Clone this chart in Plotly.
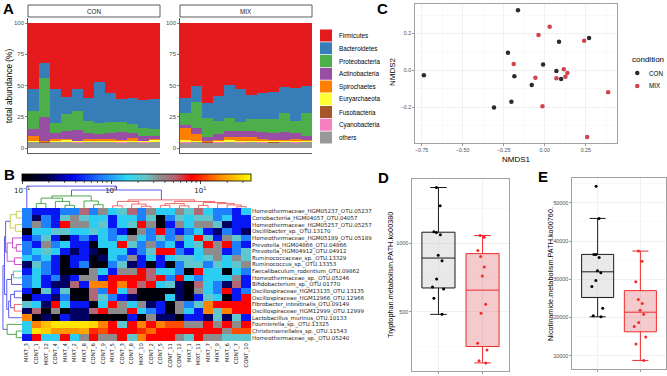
import numpy as np
import plotly.graph_objects as go

W, H = 667, 376
def px_x(a, b): return [a / W, b / W]
def px_y(top, bottom): return [1 - bottom / H, 1 - top / H]
def fx(x): return x / W
def fy(y): return 1 - y / H

SANS = "Liberation Sans, Arial, sans-serif"
DEJA = "DejaVu Sans, sans-serif"
TICK = "#4D4D4D"

# ---------------- Panel A data (relative abundance %, stacked bottom -> top)
con_samples = ["CONT_%d" % i for i in range(1, 13)]
mix_samples = ["MIXT_%d" % i for i in range(1, 13)]
stack_order = ["others", "Cyanobacteria", "Fusobacteria", "Euryarchaeota", "Spirochaetes",
               "Actinobacteria", "Proteobacteria", "Bacteroidetes", "Firmicutes"]
legend_order = ["Firmicutes", "Bacteroidetes", "Proteobacteria", "Actinobacteria", "Spirochaetes",
                "Euryarchaeota", "Fusobacteria", "Cyanobacteria", "others"]
phylum_colors = {"Firmicutes": "#E41A1C", "Bacteroidetes": "#377EB8", "Proteobacteria": "#4DAF4A",
                 "Actinobacteria": "#984EA3", "Spirochaetes": "#FF7F00", "Euryarchaeota": "#FFFF33",
                 "Fusobacteria": "#A65628", "Cyanobacteria": "#F781BF", "others": "#999999"}

con_others = [4.8, 4.2, 4.6, 4.5, 4.4, 4.7, 4.5, 4.6, 4.3, 4.5, 4.4, 4.6]
con_cyano = [0.2, 0.2, 0.2, 0.2, 0.2, 0.2, 0.2, 0.2, 0.2, 0.2, 0.2, 0.2]
con_fuso = [0.2, 0.2, 0.2, 0.2, 0.2, 0.2, 0.2, 0.2, 0.2, 0.2, 0.2, 0.2]
con_eury = [0.8, 0.4, 1.0, 1.2, 0.6, 0.8, 0.7, 0.9, 0.6, 1.0, 0.8, 1.5]
con_spiro = [3.6, 0.5, 1.5, 0.9, 0.6, 1.1, 1.4, 1.1, 1.2, 2.1, 0.4, 1.0]
con_actino = [5.4, 19.1, 4.8, 7.0, 8.5, 4.8, 4.2, 4.8, 6.5, 3.8, 3.6, 2.5]
con_proteo = [15.0, 31.4, 7.5, 13.0, 15.2, 9.9, 8.6, 8.9, 7.7, 7.2, 6.3, 5.0]
con_bacteroid = [17.0, 12.0, 27.2, 13.5, 17.3, 18.3, 33.2, 23.3, 18.3, 21.0, 22.6, 24.5]
con_firm = [53.0, 32.0, 53.0, 59.5, 53.0, 60.0, 47.0, 56.0, 61.0, 60.0, 61.5, 60.5]

mix_others = [4.3, 4.5, 4.2, 4.4, 4.6, 4.3, 4.5, 4.4, 4.2, 4.6, 4.3, 4.5]
mix_cyano = [0.2, 0.2, 0.2, 0.2, 0.2, 0.2, 0.2, 0.2, 0.2, 0.2, 0.2, 0.2]
mix_fuso = [0.2, 0.2, 0.2, 0.2, 0.2, 0.2, 0.2, 0.2, 0.2, 0.2, 0.2, 0.2]
mix_eury = [1.5, 1.0, 0.6, 0.8, 1.2, 0.9, 0.8, 0.7, 0.9, 0.6, 1.1, 1.0]
mix_spiro = [10.1, 5.3, 0.2, 0.8, 2.4, 3.5, 3.4, 1.5, 0.9, 0.8, 1.2, 0.5]
mix_actino = [2.2, 5.1, 3.2, 4.8, 5.3, 4.3, 4.3, 5.8, 5.4, 6.4, 5.3, 3.6]
mix_proteo = [9.9, 20.9, 15.2, 10.8, 9.9, 7.7, 9.6, 10.2, 11.5, 15.0, 9.4, 17.8]
mix_bacteroid = [12.0, 12.6, 12.1, 19.8, 26.5, 26.3, 19.8, 21.2, 21.4, 20.9, 26.0, 22.2]
mix_firm = [59.6, 50.2, 64.1, 58.2, 49.7, 52.6, 57.2, 55.8, 55.3, 51.3, 52.3, 50.0]

con_stack = [con_others, con_cyano, con_fuso, con_eury, con_spiro, con_actino, con_proteo, con_bacteroid, con_firm]
mix_stack = [mix_others, mix_cyano, mix_fuso, mix_eury, mix_spiro, mix_actino, mix_proteo, mix_bacteroid, mix_firm]

# ---------------- Panel B data (heatmap, relative abundance)
heat_cols = ["MIXT_3", "CONT_1", "MIXT_12", "CONT_4", "MIXT_4", "MIXT_2", "MIXT_8", "CONT_6", "CONT_9",
             "MIXT_5", "CONT_3", "CONT_8", "MIXT_10", "CONT_2", "CONT_5", "CONT_11", "CONT_12", "MIXT_1",
             "MIXT_11", "MIXT_7", "MIXT_9", "MIXT_6", "CONT_7", "CONT_10"]
heat_rows_labels = ["Homeothermaceae_HGM05237_OTU.05237", "Coriobacteriia_HGM04057_OTU.04057",
                    "Homeothermaceae_HGM05257_OTU.05257", "Oscillibacter_sp._OTU.13170",
                    "Homeothermaceae_HGM05189_OTU.05189", "Prevotella_HGM04866_OTU.04866",
                    "Prevotella_HGM04912_OTU.04912", "Ruminococcaceae_sp._OTU.13329",
                    "Ruminococcus_sp._OTU.13353", "Faecalibaculum_rodentium_OTU.09862",
                    "Homeothermaceae_sp._OTU.05246", "Bifidobacterium_sp._OTU.01770",
                    "Oscillospiraceae_HGM13135_OTU.13135", "Oscillospiraceae_HGM12966_OTU.12966",
                    "Fibrobacter_intestinalis_OTU.09149", "Oscillospiraceae_HGM12999_OTU.12999",
                    "Lactobacillus_murinus_OTU.10133", "Fournierella_sp._OTU.13325",
                    "Christensenellales_sp._OTU.11543", "Homeothermaceae_sp._OTU.05240"]
otu_05237 = [0.79,0.42,0.42,0.42,0.79,0.79,4.9,0.79,3.5,1.4,2.3,4.9,0.79,3.5,1.4,1.4,3.5,2.3,4.9,1.4,0.79,0.79,0.42,1.4]
otu_04057 = [0.79,0.21,0.79,0.42,2.3,3.5,2.3,1.4,1.4,0.42,1.4,1.4,0.79,2.3,0.11,0.79,2.3,1.4,2.3,2.3,0.79,1.4,0.42,0.42]
otu_05257 = [0.79,3.5,0.79,0.42,7.9,3.5,3.5,1.4,2.3,0.42,1.4,2.3,7.9,3.5,0.11,0.42,3.5,1.4,3.5,3.5,2.3,0.21,0.42,0.42]
otu_13170 = [0.11,1.4,1.4,2.3,2.3,1.4,1.4,2.3,1.4,0.79,0.42,0.11,3.5,0.79,7.9,0.79,0.42,0.79,1.4,0.42,0.21,0.79,0.42,0.21]
otu_05189 = [0.42,0.79,2.3,0.42,0.11,0.42,0.79,0.42,1.4,0.79,1.4,3.5,1.4,0.79,2.3,0.79,3.5,1.4,7.9,2.3,0.42,3.5,2.3,0.79]
otu_04866 = [0.79,0.42,3.5,0.79,1.4,0.42,0.42,0.11,1.4,1.4,7.9,2.3,0.79,3.5,0.79,1.4,0.42,1.4,2.3,7.9,3.5,7.9,0.79,0.42]
otu_04912 = [0.79,1.4,2.3,1.4,0.42,0.21,0.42,0.21,0.11,1.4,1.4,0.42,0.79,2.3,7.9,7.9,0.79,0.42,1.4,3.5,3.5,0.42,0.79,2.3]
otu_13329 = [1.4,0.79,1.4,0.42,0.11,0.42,0.42,0.11,0.21,1.4,0.79,3.5,0.42,1.4,0.42,1.4,2.3,2.3,1.4,2.3,3.5,1.4,3.5,2.3]
otu_13353 = [0.21,2.3,0.79,0.42,0.11,0.42,0.79,0.11,0.11,0.79,2.3,0.21,0.42,0.11,0.42,0.11,0.79,2.3,2.3,0.79,2.3,1.4,2.3,3.5]
otu_09862 = [0.42,1.4,0.79,0.42,0.11,0.11,0.11,3.5,1.4,0.42,3.5,3.5,7.9,4.9,1.4,1.4,0.79,0.11,7.9,1.4,1.4,0.11,1.4,0.79]
otu_05246 = [0.79,1.4,0.42,0.79,0.21,0.42,3.5,3.5,0.42,7.9,7.9,7.9,7.9,4.9,7.9,0.79,7.9,1.4,0.79,1.4,1.4,1.4,3.5,0.42]
otu_01770 = [0.79,1.4,0.42,0.21,0.21,4.9,0.42,16,16,7.9,16,7.9,4.9,7.9,1.4,2.3,0.21,0.11,4.9,1.4,0.79,0.21,4.9,0.42]
otu_13135 = [0.42,0.11,2.3,0.42,2.3,0.11,0.11,4.9,0.79,7.9,1.4,4.9,0.11,0.11,0.11,0.11,0.21,0.11,3.5,1.4,0.79,7.9,0.42,0.79]
otu_12966 = [0.11,0.42,0.42,0.21,0.79,0.11,0.11,4.9,2.3,0.79,0.42,0.21,0.11,0.11,0.11,1.4,0.21,0.11,0.42,2.3,1.4,0.11,0.42,7.9]
otu_09149 = [2.3,1.4,0.21,7.9,1.4,0.42,0.42,0.11,1.4,7.9,3.5,1.4,3.5,0.21,0.42,0.11,3.5,0.79,2.3,16,7.9,7.9,7.9,7.9]
otu_12999 = [0.21,4.9,0.11,3.5,0.11,0.21,0.21,4.9,7.9,3.5,3.5,7.9,1.4,0.79,0.42,0.11,3.5,1.4,0.42,16,2.3,16,7.9,7.9]
otu_10133 = [16,0.11,0.21,0.11,0.42,0.21,0.21,0.11,0.11,0.11,0.11,0.42,0.11,3.5,0.21,0.21,0.11,0.42,0.42,0.21,2.3,0.21,2.3,0.42]
otu_13325 = [1.4,16,24,31,31,31,31,28,16,7.9,2.3,7.9,16,7.9,16,12,12,3.5,3.5,7.9,3.5,7.9,3.5,7.9]
otu_11543 = [1.4,31,26,18,18,18,20,10,12,7.9,7.9,7.9,10,14,7.9,7.9,7.9,7.9,7.9,7.9,7.9,3.5,12,12]
otu_05240 = [0.42,7.9,1.4,1.4,7.9,1.4,3.5,7.9,3.5,3.5,7.9,2.3,16,7.9,7.9,7.9,3.5,2.3,7.9,3.5,3.5,2.3,2.3,2.3]
heat_rows = [otu_05237, otu_04057, otu_05257, otu_13170, otu_05189, otu_04866, otu_04912, otu_13329,
             otu_13353, otu_09862, otu_05246, otu_01770, otu_13135, otu_12966, otu_09149, otu_12999,
             otu_10133, otu_13325, otu_11543, otu_05240]
heat_min, heat_max = 0.1, 37.0
colorbar_minor = [0.2, 0.3, 0.4, 0.5, 0.6, 0.7, 0.8, 0.9, 2, 3, 4, 5, 6, 7, 8, 9, 20, 30]

# dendrograms: (left, right, merge height, cluster colour)
col_tree = (0, ((((1, 2, 0.2, "g"), (3, (4, 5, 0.12, "g"), 0.3, "g"), 0.45, "g"),
                 (6, (7, 8, 0.15, "g"), 0.32, "g"), 0.55, "g"),
                (((9, 10, 0.1, "r"), (11, (12, 13, 0.08, "r"), 0.18, "r"), 0.3, "r"),
                 (((14, 15, 0.12, "r"), (16, 17, 0.1, "r"), 0.2, "r"),
                  ((18, 19, 0.12, "r"), (20, (21, (22, 23, 0.06, "r"), 0.14, "r"), 0.2, "r"), 0.25, "r"),
                  0.3, "r"), 0.37, "r"), 0.82, "b"), 1.0, "b")
row_tree = (((((0, 1, 0.3, "y"), (2, 3, 0.35, "y"), 0.62, "y"),
              ((4, (5, 6, 0.3, "m"), 0.5, "m"), (7, 8, 0.4, "m"), 0.78, "m"), 0.86, "b"),
             (((9, 10, 0.45, "c"), 11, 0.55, "b"),
              (((12, 13, 0.4, "b"), (14, 15, 0.4, "r"), 0.6, "b"), 16, 0.7, "b"), 0.8, "b"), 0.92, "b"),
            (17, (18, 19, 0.3, "g"), 0.78, "g"), 1.0, "b")
tree_colors = {"g": "#3C9E3C", "r": "#EE5A5A", "b": "#4B4BEA", "y": "#C8C83C", "m": "#C83CC8", "c": "#3CC3C3"}

# ---------------- Panel C data (NMDS)
con_nmds1 = [-0.163, -0.224, 0.087, 0.27, -0.01, 0.071, 0.10, -0.185, -0.736, -0.079, -0.203, -0.309]
con_nmds2 = [0.326, 0.095, 0.155, 0.175, 0.032, -0.004, -0.047, -0.033, -0.027, -0.08, -0.171, -0.202]
mix_nmds1 = [0.03, -0.038, 0.24, -0.189, 0.116, 0.138, 0.126, 0.071, -0.057, 0.386, -0.014, 0.258]
mix_nmds2 = [0.236, 0.191, 0.16, 0.034, 0.005, -0.015, -0.035, -0.043, -0.04, -0.119, -0.195, -0.362]

# ---------------- Panels D / E data
con_trp = [1406, 1273, 1083, 1077, 1061, 912, 871, 739, 681, 666, 598, 481]
mix_trp = [1056, 1044, 946, 902, 827, 761, 554, 490, 271, 222, 127, 142]
con_nic = [54300, 45900, 36500, 36500, 35700, 32200, 31700, 29650, 28100, 22400, 20450, 20200]
mix_nic = [37370, 34690, 29380, 24690, 23650, 21920, 20880, 18700, 17660, 14900, 13070, 8800]

CON_C, MIX_C = "#2B2B2B", "#D0434B"

fig = go.Figure()

# ---- A bars
for sname, con_v, mix_v in zip(stack_order, con_stack, mix_stack):
    fig.add_trace(go.Bar(x=con_samples, y=con_v, marker=dict(color=phylum_colors[sname], line=dict(width=0)),
                         xaxis="x", yaxis="y", showlegend=False, hoverinfo="skip"))
    fig.add_trace(go.Bar(x=mix_samples, y=mix_v, marker=dict(color=phylum_colors[sname], line=dict(width=0)),
                         xaxis="x2", yaxis="y2", showlegend=False, hoverinfo="skip"))

# ---- B heatmap
z = np.log10(np.array(heat_rows, dtype=float))
cmin, cmax = np.log10(heat_min), np.log10(heat_max)
colorscale = [[0.0, "#000000"], [0.1, "#00003C"], [0.22, "#0000F0"], [0.34, "#1E78FF"],
              [0.46, "#2ED8F2"], [0.54, "#66C4C8"], [0.60, "#8C8C8C"], [0.67, "#B86070"],
              [0.74, "#FF0000"], [0.87, "#FF9000"], [1.0, "#FFFF00"]]
CB_L, CB_R, CB_T, CB_B = 22, 251, 174, 181
fig.add_trace(go.Heatmap(
    z=z, x=list(range(len(heat_cols))), y=list(range(len(heat_rows_labels))),
    colorscale=colorscale, zmin=cmin, zmax=cmax, xaxis="x3", yaxis="y3", hoverinfo="skip",
    colorbar=dict(orientation="h", x=fx((CB_L + CB_R) / 2), xanchor="center", len=(CB_R - CB_L) / W,
                  lenmode="fraction", y=fy(CB_T), yanchor="top", thickness=CB_B - CB_T,
                  thicknessmode="pixels", xpad=0, ypad=0, outlinewidth=0.8, outlinecolor="#000000",
                  tickvals=[-1, 0, 1], ticktext=["10<sup>−1</sup>", "10<sup>0</sup>", "10<sup>1</sup>"],
                  ticks="outside", ticklen=3.5, tickcolor="#000", tickwidth=0.7,
                  tickfont=dict(family=DEJA, size=7, color="#222"))))

def walk(node, segs):
    if isinstance(node, int):
        return float(node), 0.0
    left, right, h, c = node
    pl, hl = walk(left, segs)
    pr, hr = walk(right, segs)
    segs.setdefault(c, []).append([(pl, hl), (pl, h), (pr, h), (pr, hr)])
    return (pl + pr) / 2, h

col_segs = {}
walk(col_tree, col_segs)
for c, us in col_segs.items():
    xs, ys = [], []
    for u in us:
        xs += [p[0] for p in u] + [None]
        ys += [p[1] for p in u] + [None]
    fig.add_trace(go.Scatter(x=xs, y=ys, mode="lines", line=dict(color=tree_colors[c], width=0.9),
                             xaxis="x4", yaxis="y4", showlegend=False, hoverinfo="skip"))
row_segs = {}
walk(row_tree, row_segs)
for c, us in row_segs.items():
    xs, ys = [], []
    for u in us:
        xs += [p[1] for p in u] + [None]
        ys += [p[0] for p in u] + [None]
    fig.add_trace(go.Scatter(x=xs, y=ys, mode="lines", line=dict(color=tree_colors[c], width=0.9),
                             xaxis="x5", yaxis="y5", showlegend=False, hoverinfo="skip"))

# ---- C scatter
fig.add_trace(go.Scatter(x=con_nmds1, y=con_nmds2, mode="markers", marker=dict(color=CON_C, size=4.5),
                         xaxis="x6", yaxis="y6", showlegend=False))
fig.add_trace(go.Scatter(x=mix_nmds1, y=mix_nmds2, mode="markers", marker=dict(color=MIX_C, size=4.5),
                         xaxis="x6", yaxis="y6", showlegend=False))

# ---- D / E boxes
def box(vals, name, xa, ya, line_c, fill_c, pt_c):
    return go.Box(y=vals, x=[name] * len(vals), name=name, xaxis=xa, yaxis=ya, boxpoints="all",
                  jitter=0.45, pointpos=0, width=0.75, quartilemethod="linear",
                  marker=dict(color=pt_c, size=3), line=dict(color=line_c, width=1),
                  fillcolor=fill_c, showlegend=False, hoverinfo="skip")

fig.add_trace(box(con_trp, "CON", "x7", "y7", "#1A1A1A", "rgba(200,200,200,0.4)", "#000000"))
fig.add_trace(box(mix_trp, "MIX", "x7", "y7", "#EE2C2C", "rgba(220,90,100,0.32)", "#EE2C2C"))
fig.add_trace(box(con_nic, "CON", "x8", "y8", "#1A1A1A", "rgba(200,200,200,0.4)", "#000000"))
fig.add_trace(box(mix_nic, "MIX", "x8", "y8", "#EE2C2C", "rgba(220,90,100,0.32)", "#EE2C2C"))

# ---------------- layout
hid = dict(visible=False, showgrid=False, zeroline=False)
axA_x = dict(showticklabels=False, ticks="", showline=True, linecolor="#333", linewidth=0.8,
             showgrid=False, zeroline=False, range=[-0.5, 11.5])
axA_y = dict(domain=px_y(18, 153), range=[-4, 104], tickvals=[0, 25, 50, 75, 100], ticks="outside",
             ticklen=2, tickcolor="#333", tickwidth=0.6, tickfont=dict(family=SANS, size=6, color=TICK),
             showline=True, linecolor="#333", linewidth=0.8, showgrid=False, zeroline=False)
GRID = "#EBEBEB"
MINOR = dict(showgrid=True, gridcolor="#F4F4F4", gridwidth=0.5, ticks="")
bw = dict(showline=True, mirror=True, linecolor="#8A8A8A", linewidth=0.8, showgrid=True, gridcolor=GRID,
          gridwidth=0.7, zeroline=False, ticks="outside", ticklen=2, tickcolor="#555", tickwidth=0.6,
          tickfont=dict(family=SANS, size=5.3, color=TICK))

fig.update_layout(
    width=W, height=H, margin=dict(l=0, r=0, t=0, b=0), paper_bgcolor="white", plot_bgcolor="white",
    barmode="stack", bargap=0.06, boxmode="overlay",
    xaxis=dict(domain=px_x(28, 160), anchor="y", **axA_x),
    yaxis=dict(anchor="x", **axA_y),
    xaxis2=dict(domain=px_x(180, 312), anchor="y2", **axA_x),
    yaxis2=dict(anchor="x2", **axA_y),
    xaxis3=dict(domain=px_x(22, 251), anchor="y3", range=[-0.5, 23.5], tickvals=list(range(24)),
                ticktext=heat_cols, tickangle=-90, ticks="", showgrid=False, zeroline=False,
                tickfont=dict(family=DEJA, size=5.3, color="#222")),
    yaxis3=dict(domain=px_y(208, 341), anchor="x3", range=[19.5, -0.5], side="right",
                tickvals=list(range(20)), ticktext=heat_rows_labels, ticks="", showgrid=False,
                zeroline=False, tickfont=dict(family=DEJA, size=5.5, color="#222")),
    xaxis4=dict(domain=px_x(22, 251), anchor="y4", range=[-0.5, 23.5], **hid),
    yaxis4=dict(domain=px_y(185, 208), anchor="x4", range=[0, 1.05], **hid),
    xaxis5=dict(domain=px_x(2, 22), anchor="y5", range=[1.05, 0], **hid),
    yaxis5=dict(domain=px_y(208, 341), anchor="x5", range=[19.5, -0.5], **hid),
    xaxis6=dict(domain=px_x(415, 617), anchor="y6", range=[-0.79, 0.44], tick0=0, dtick=0.25,
                tickformat=".2f", minor=dict(dtick=0.125, **MINOR), **bw),
    yaxis6=dict(domain=px_y(4, 143), anchor="x6", range=[-0.395, 0.36], tick0=0, dtick=0.2,
                tickformat=".1f", minor=dict(dtick=0.1, **MINOR), **bw),
    xaxis7=dict(domain=px_x(412, 509), anchor="y7", range=[-0.6, 1.6], type="category",
                showticklabels=False, **bw),
    yaxis7=dict(domain=px_y(179, 371), anchor="x7", range=[68, 1468], tick0=0, dtick=500,
                minor=dict(dtick=250, **MINOR), **bw),
    xaxis8=dict(domain=px_x(572, 666), anchor="y8", range=[-0.6, 1.6], type="category",
                showticklabels=False, **bw),
    yaxis8=dict(domain=px_y(178, 369), anchor="x8", range=[6560, 56460], tick0=0, dtick=10000,
                tickformat="d", minor=dict(dtick=5000, **MINOR), **bw),
)

shapes, annos = [], []
def ann(x, y, text, size, color="#000", xanchor="center", yanchor="middle", angle=0, bold=False, family=SANS):
    annos.append(dict(x=fx(x), y=fy(y), xref="paper", yref="paper", text=("<b>%s</b>" % text) if bold else text,
                      showarrow=False, xanchor=xanchor, yanchor=yanchor, textangle=angle,
                      font=dict(family=family, size=size, color=color)))

# colourbar minor ticks (log positions)
for v in colorbar_minor:
    xm = CB_L + (np.log10(v) - cmin) / (cmax - cmin) * (CB_R - CB_L)
    shapes.append(dict(type="line", xref="paper", yref="paper", x0=fx(xm), x1=fx(xm),
                       y0=fy(CB_B), y1=fy(CB_B + 2), line=dict(color="#000", width=0.6)))

# strips for A
for (a, b, lab) in [(28, 160, "CON"), (180, 312, "MIX")]:
    shapes.append(dict(type="rect", xref="paper", yref="paper", x0=fx(a), x1=fx(b), y0=fy(17), y1=fy(5),
                       line=dict(color="#333", width=0.8), fillcolor="white"))
    ann((a + b) / 2, 11, lab, 6.3, color="#1A1A1A")
ann(9, 86, "total abundance (%)", 8.3, angle=-90)

# A legend
for i, name in enumerate(legend_order):
    yc = 35.5 + 12.75 * i
    shapes.append(dict(type="rect", xref="paper", yref="paper", x0=fx(320), x1=fx(332),
                       y0=fy(yc + 6), y1=fy(yc - 6), line=dict(width=0), fillcolor=phylum_colors[name]))
    ann(337, yc, name, 6.3, xanchor="left")

# C legend and titles
ann(630, 59, "condition", 8, xanchor="left")
for yc, lab, col in [(73, "CON", CON_C), (86, "MIX", MIX_C)]:
    shapes.append(dict(type="circle", xref="paper", yref="paper", x0=fx(635), x1=fx(639.5),
                       y0=fy(yc + 2.25), y1=fy(yc - 2.25), line=dict(width=0), fillcolor=col))
    ann(647, yc, lab, 6.3, xanchor="left")
ann(516, 159, "NMDS1", 8)
ann(393, 72, "NMDS2", 8, angle=-90)

# D / E titles
ann(390, 275, "Tryptophan.metabolism.PATH.ko00380", 7.3, angle=-90)
ann(550, 274, "Nicotinamide.metabolism.PATH.ko00760.", 7.3, angle=-90)

# panel letters
ann(8, 9, "A", 15, bold=True)
ann(9, 174, "B", 15, bold=True)
ann(382, 9, "C", 15, bold=True)
ann(384, 177, "D", 15, bold=True)
ann(543, 176, "E", 15, bold=True)

fig.update_layout(shapes=shapes, annotations=annos)
fig.write_html("out.html", config={"displayModeBar": False, "staticPlot": True},
               post_script="document.body.style.margin='0px';document.body.style.overflow='hidden';")
